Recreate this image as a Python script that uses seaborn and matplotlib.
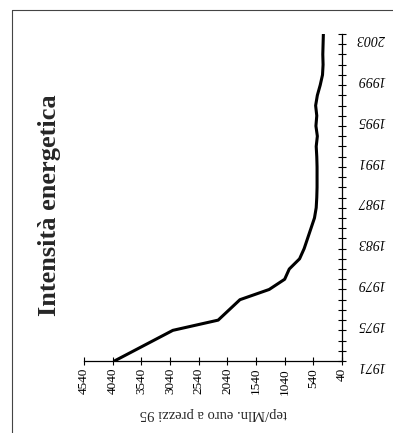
import numpy as np
import pandas as pd
import matplotlib
matplotlib.use("Agg")
import matplotlib.pyplot as plt
import matplotlib.transforms as mtransforms
from matplotlib.lines import Line2D
import seaborn as sns

# ---- data ----
years = [1971, 1972, 1973, 1974, 1975, 1976, 1977, 1978, 1979, 1980, 1981,
         1982, 1983, 1984, 1985, 1986, 1987, 1988, 1989, 1990, 1991, 1992,
         1993, 1994, 1995, 1996, 1997, 1998, 1999, 2000, 2001, 2002, 2003]
intensity = [4010, 3670, 3330, 2990, 2200, 2010, 1820, 1310, 1040, 960, 780,
             700, 640, 580, 520, 490, 480, 475, 475, 475, 480, 490,
             470, 495, 480, 500, 470, 420, 380, 370, 375, 370, 365]
value_ticks = [4540, 4040, 3540, 3040, 2540, 2040, 1540, 1040, 540, 40]
year_label_ticks = [1971, 1975, 1979, 1983, 1987, 1991, 1995, 1999, 2003]
title_text = "Intensità energetica"
value_label = "tep/Mln. euro a prezzi 95"

df = pd.DataFrame({"anno": years, "intensita": intensity})

sns.set_style("white")
plt.rcParams["font.family"] = ["Liberation Serif", "DejaVu Serif"]

W, H = 393, 433
fig = plt.figure(figsize=(W / 100, H / 100), dpi=100)
ax = fig.add_axes([84 / W, (H - 361) / H, (342 - 84) / W, (361 - 34) / H])

sns.lineplot(data=df, x="intensita", y="anno", sort=False, estimator=None,
             color="black", linewidth=2.2, ax=ax)

ax.set_xlim(4540, 40)
ax.set_ylim(1971, 2003)

for s in ["top", "left"]:
    ax.spines[s].set_visible(False)
for s in ["bottom", "right"]:
    ax.spines[s].set_visible(True)
    ax.spines[s].set_color("black")
    ax.spines[s].set_linewidth(0.9)

ax.set_xticks(value_ticks)
ax.set_xticklabels([str(v) for v in value_ticks], rotation=90, fontsize=9.5)
ax.xaxis.set_ticks_position("bottom")
ax.tick_params(axis="x", direction="inout", length=6, width=0.8, pad=2,
               colors="black")

ax.yaxis.tick_right()
ax.set_yticks(year_label_ticks)
ax.set_yticks(years, minor=True)
ax.set_yticklabels([str(y) for y in year_label_ticks], rotation=180,
                   fontsize=10, style="italic")
ax.tick_params(axis="y", which="both", direction="inout", length=6,
               width=0.8, pad=8, colors="black", left=False, right=True)

offset = mtransforms.ScaledTranslation(0, -3 / 100, fig.dpi_scale_trans)
for lab in ax.get_yticklabels():
    lab.set_transform(lab.get_transform() + offset)

ax.set_xlabel(value_label, rotation=180, fontsize=10.5, labelpad=9)
ax.set_ylabel("")
ax.grid(False)

fig.text(50 / W, (H - 205) / H, title_text, rotation=90, fontsize=19,
         fontweight="bold", ha="center", va="center")

# page frame lines (scan border)
fig.add_artist(Line2D([12 / W, 1.0], [(H - 10) / H, (H - 10) / H],
                      transform=fig.transFigure, color="#444444", linewidth=0.8))
fig.add_artist(Line2D([12 / W, 12 / W], [0, (H - 10) / H],
                      transform=fig.transFigure, color="#444444", linewidth=0.8))

fig.savefig("out.png", dpi=100)
